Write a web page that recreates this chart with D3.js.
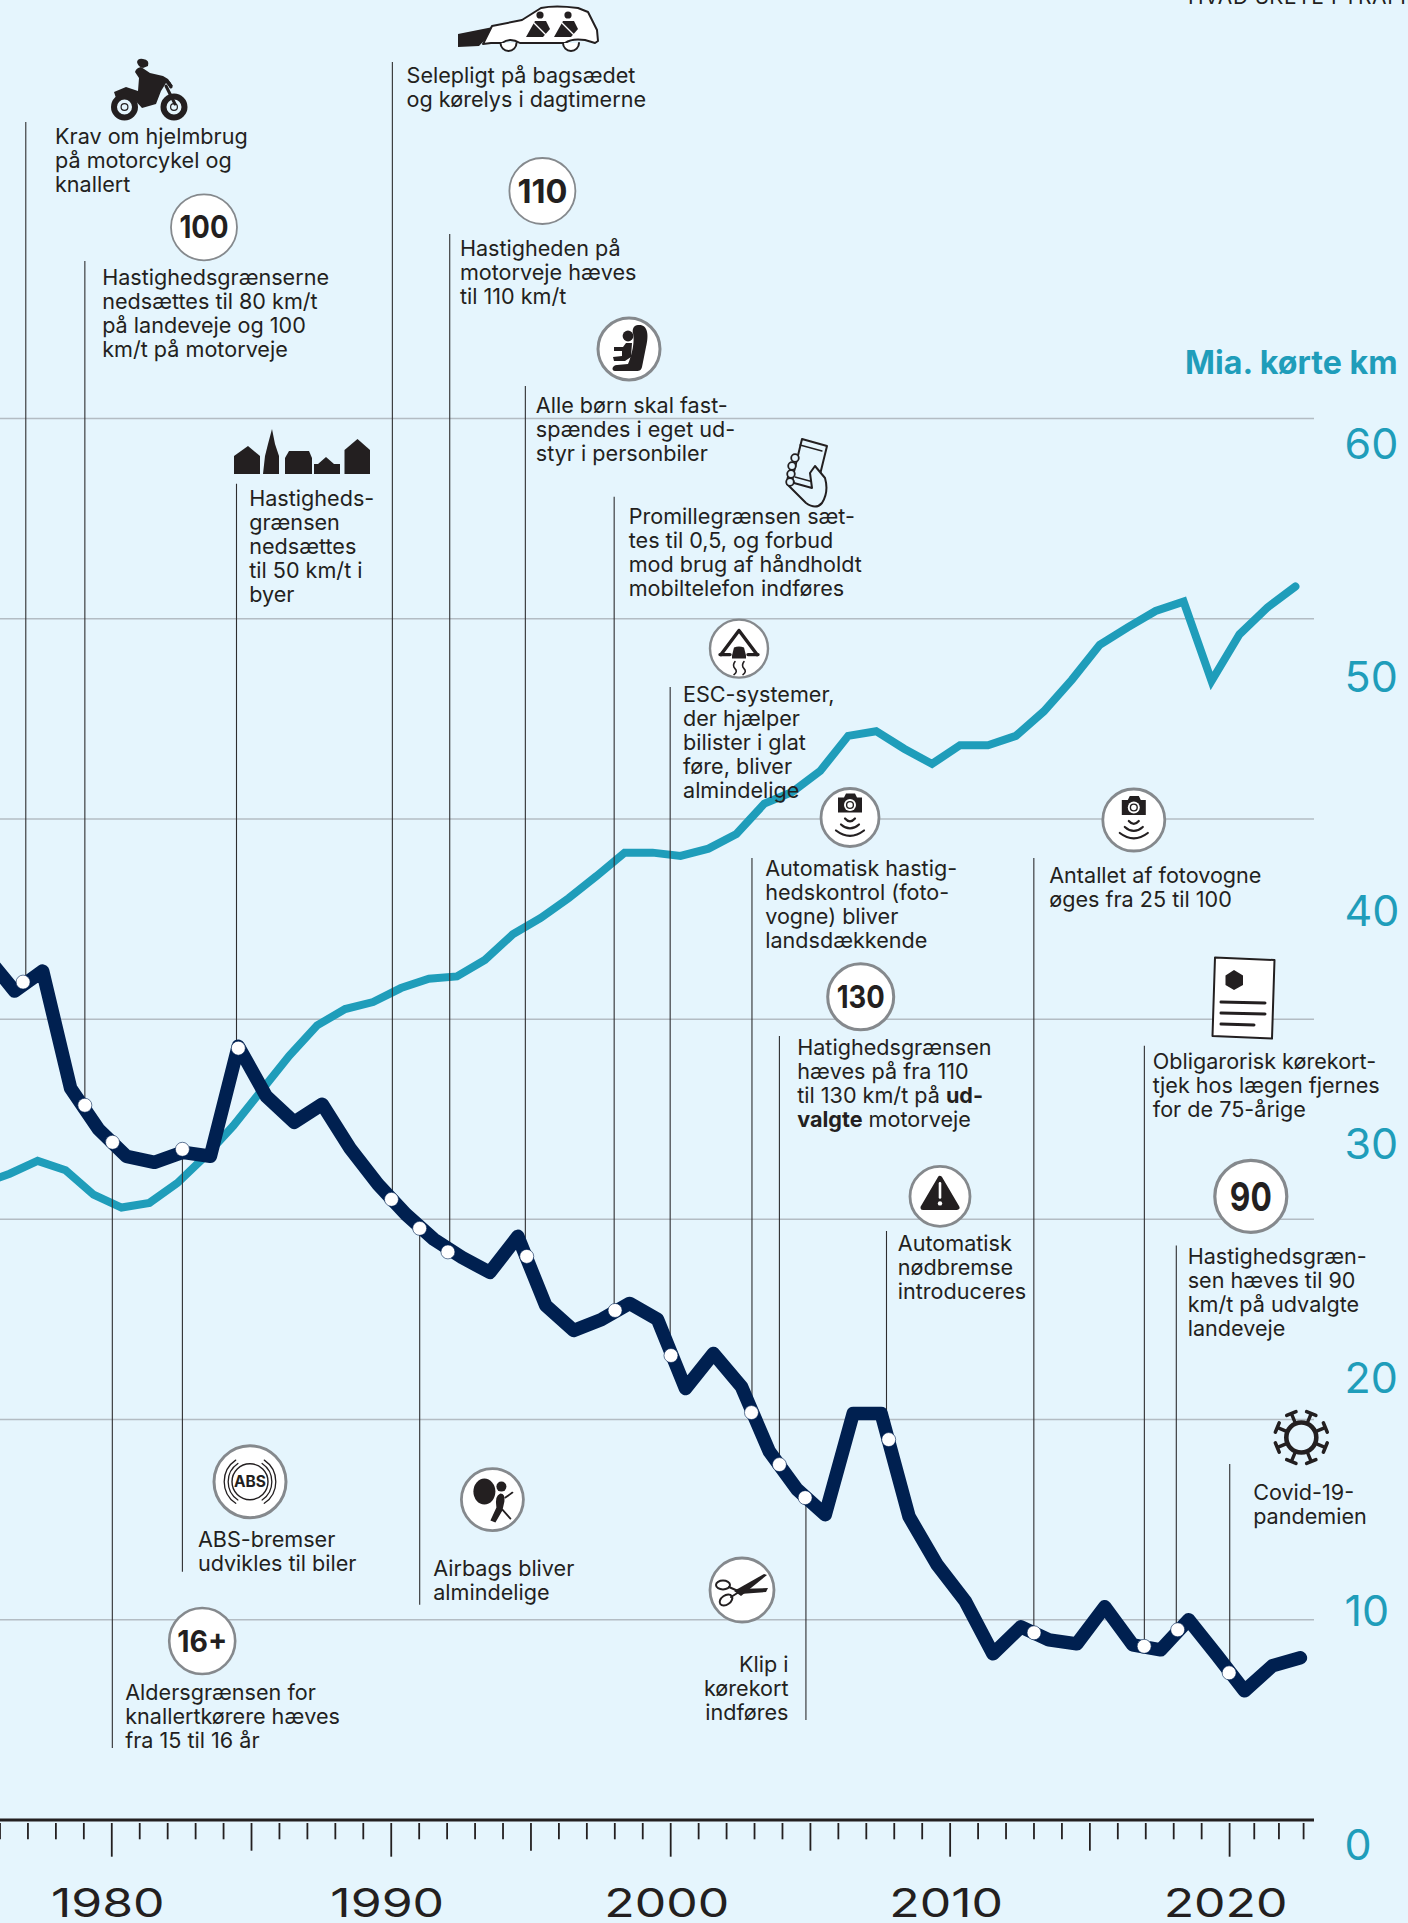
<!DOCTYPE html>
<html><head><meta charset="utf-8">
<script src="https://cdn.jsdelivr.net/npm/d3@7/dist/d3.min.js"></script>
<style>
html,body{margin:0;padding:0;background:#e5f5fd;}
svg{display:block;}
text{font-family:Inter,"Noto Sans",sans-serif;}
</style></head><body>
<svg id="c" width="1408" height="1923"></svg>
<script>
// ---------- data ----------
const years = d3.range(1976, 2024);
const fatalities = [862,828,848,731,690,663,657,667,663,773,723,697,715,671,635,605,580,562,547,583,514,489,500,516,500,431,466,433,368,330,305,406,406,303,255,219,166,193,180,176,213,175,170,200,165,129,154,162];
const kilometres = [28.3,28.75,29.3,28.9,27.85,27.3,27.5,28.35,29.5,30.8,32.3,33.8,35.1,35.8,36.1,36.7,37.1,37.2,37.9,39,39.7,40.55,41.5,42.5,42.5,42.36,42.67,43.3,44.6,45.1,46,47.5,47.7,46.95,46.3,47.1,47.1,47.5,48.55,49.9,51.4,52.15,52.85,53.25,49.85,51.85,53,53.9];
const gridValues = [200,400,600,800,1000,1200,1400];
const kmTicks = [0,10,20,30,40,50,60];
const axisYears = d3.range(1976, 2024);
const decadeLabels = [1980,1990,2000,2010,2020];
const eventYears = [1977.3,1979.51,1980.5,1983,1985,1990.48,1991.49,1992.5,1995.32,1998.48,2000.48,2003.36,2004.36,2005.28,2008.27,2013.47,2017.41,2018.61,2020.45];
const eventValues = [837,714,677,670,771,620,591,567.5,563,509,464,407,355,322,380,187,173.5,190,147];
const eventTexts = [
 ["Krav om hjelmbrug","på motorcykel og","knallert"],
 ["Hastighedsgrænserne","nedsættes til 80 km/t","på landeveje og 100","km/t på motorveje"],
 ["Aldersgrænsen for","knallertkørere hæves","fra 15 til 16 år"],
 ["ABS-bremser","udvikles til biler"],
 ["Hastigheds-","grænsen","nedsættes","til 50 km/t i","byer"],
 ["Selepligt på bagsædet","og kørelys i dagtimerne"],
 ["Airbags bliver","almindelige"],
 ["Hastigheden på","motorveje hæves","til 110 km/t"],
 ["Alle børn skal fast-","spændes i eget ud-","styr i personbiler"],
 ["Promillegrænsen sæt-","tes til 0,5, og forbud","mod brug af håndholdt","mobiltelefon indføres"],
 ["ESC-systemer,","der hjælper","bilister i glat","føre, bliver","almindelige"],
 ["Automatisk hastig-","hedskontrol (foto-","vogne) bliver","landsdækkende"],
 ["Hatighedsgrænsen","hæves på fra 110","til 130 km/t på *ud-*","*valgte* motorveje"],
 ["Klip i","kørekort","indføres"],
 ["Automatisk","nødbremse","introduceres"],
 ["Antallet af fotovogne","øges fra 25 til 100"],
 ["Obligarorisk kørekort-","tjek hos lægen fjernes","for de 75-årige"],
 ["Hastighedsgræn-","sen hæves til 90","km/t på udvalgte","landeveje"],
 ["Covid-19-","pandemien"]
];
const titleText = "Mia. kørte km";
const headerText = "HVAD SKETE I TRAFIKKEN";

// ---------- layout ----------
const BG="#e5f5fd", NAVY="#002050", TEAL="#1f9dba", INK="#231f20", GRID="#b3bcc3", RING="#85898d";
// [leader far end y, leader dx, text x, first baseline, anchor]
const layout = [
 [122,2.7,55,143.7],[261,0,102.2,284.5],[1748,-.2,125.2,1700],[1571.7,0,197.9,1546.7],
 [483.7,-1.8,249.2,506],[62,.9,406.6,83],[1604.7,0,433.2,1575.7],[234,1.8,459.9,256],
 [386,-1.4,535.8,413],[496.7,-.9,628.7,523.5],[687,-.8,683,702],[858,.5,765.2,875.7],
 [1036,0,797.2,1054.6],[1720,.8,788.5,1671.7,"end"],[1231,-2.2,897.8,1251],[858,-.2,1049.2,883],
 [1045.7,.2,1152.8,1068.6],[1245.4,-1.4,1187.7,1264.2],[1464,.6,1253.2,1500]
];
const svg=d3.select("#c");
svg.append("rect").attr("width",1408).attr("height",1923).attr("fill",BG);

const x=d3.scaleLinear().domain([1977,2023]).range([14.7,1300.4]);
const xAxis=d3.scaleLinear().domain([1976,2020,2023]).range([0,1229.6,1303.6]);
const yD=d3.scaleLinear().domain([0,1400]).range([1820,418.5]);
const yK=d3.scaleLinear().domain([0,60]).range([1845,444]);
const TEAL_DX=-5;

// grid
svg.append("g").selectAll("line").data(gridValues).join("line")
 .attr("x1",0).attr("x2",1314).attr("y1",d=>yD(d)).attr("y2",d=>yD(d))
 .attr("stroke",GRID).attr("stroke-width",1.5);

// teal line
svg.append("path").datum(years.map((y,i)=>[y,kilometres[i]]))
 .attr("fill","none").attr("stroke",TEAL).attr("stroke-width",8).attr("stroke-linejoin","miter").attr("stroke-linecap","round")
 .attr("d",d3.line().x(d=>x(d[0])+TEAL_DX).y(d=>yK(d[1])));

// leaders
svg.append("g").selectAll("line").data(eventYears).join("line")
 .attr("x1",(d,i)=>x(d)+layout[i][1]).attr("x2",(d,i)=>x(d)+layout[i][1])
 .attr("y1",(d,i)=>layout[i][0]).attr("y2",(d,i)=>yD(eventValues[i]))
 .attr("stroke","#2e2e30").attr("stroke-width",1.1);

// navy line
svg.append("path").datum(years.map((y,i)=>[y,fatalities[i]]))
 .attr("fill","none").attr("stroke",NAVY).attr("stroke-width",13.5).attr("stroke-linejoin","round").attr("stroke-linecap","round")
 .attr("d",d3.line().x(d=>x(d[0])).y(d=>yD(d[1])));

// event dots
svg.append("g").selectAll("circle").data(eventYears).join("circle")
 .attr("cx",d=>x(d)).attr("cy",(d,i)=>yD(eventValues[i])).attr("r",7)
 .attr("fill","#fff").attr("stroke",NAVY).attr("stroke-width",.6);

// event texts
const tg=svg.append("g").attr("fill",INK).attr("font-size",21.6);
eventTexts.forEach((lines,i)=>{
 const l=layout[i];
 const t=tg.append("text").attr("text-anchor",l[4]||"start");
 lines.forEach((s,j)=>{
  let first=true;
  s.split("*").forEach((part,k)=>{
   if(!part)return;
   const sp=t.append("tspan").text(part).attr("font-weight",k%2?700:400);
   if(first){sp.attr("x",l[2]).attr("y",l[3]+j*24);first=false;}
  });
 });
});

// x axis
const ax=svg.append("g");
ax.append("g").selectAll("line").data(axisYears).join("line")
 .attr("x1",d=>xAxis(d)).attr("x2",d=>xAxis(d)).attr("y1",1823)
 .attr("y2",d=>d%10===0?1856.7:d%5===0?1850.7:1839.3)
 .attr("stroke",INK).attr("stroke-width",1.8);
ax.append("line").attr("x1",0).attr("x2",1314).attr("y1",1820).attr("y2",1820).attr("stroke",INK).attr("stroke-width",3);
const decade=ax.append("g").selectAll("text").data(decadeLabels).join("text")
 .attr("x",d=>xAxis(d)-4).attr("y",1916.7).attr("text-anchor","middle").attr("fill",INK)
 .attr("font-size",39).text(d=>d);
decade.each(function(){const n=this.getComputedTextLength();d3.select(this).attr("textLength",n*1.28).attr("lengthAdjust","spacingAndGlyphs");});

// km axis
svg.append("g").selectAll("text").data(kmTicks).join("text")
 .attr("x",1344.5).attr("y",d=>yK(d)+14.5).attr("fill",TEAL).attr("font-size",43).text(d=>d);
svg.append("text").attr("x",1185).attr("y",373.5).attr("fill",TEAL)
 .attr("font-size",32).attr("font-weight",700).attr("textLength",212.5).attr("lengthAdjust","spacingAndGlyphs").text(titleText);
svg.append("text").attr("x",1188).attr("y",4).attr("fill",INK).attr("font-size",21).attr("letter-spacing",.6).text(headerText);

// ---------- icons ----------
function disc(cx,cy,r,sw){
 const g=svg.append("g").attr("transform",`translate(${cx},${cy})`);
 g.append("circle").attr("r",r).attr("fill","#fff").attr("stroke",RING).attr("stroke-width",sw||2.4);
 return g;
}
function numberDisc(cx,cy,r,label,fs,sw,w){
 const g=disc(cx,cy,r,sw);
 g.append("text").attr("text-anchor","middle").attr("y",fs*.36).attr("font-size",fs).attr("font-weight",700)
  .attr("fill",INK).attr("textLength",w).attr("lengthAdjust","spacingAndGlyphs").text(label);
}
const P=(g,d,fill,stroke,sw)=>g.append("path").attr("d",d).attr("fill",fill||INK).attr("stroke",stroke||"none").attr("stroke-width",sw||0).attr("stroke-linecap","round").attr("stroke-linejoin","round");

numberDisc(204,227.3,33,"100",31,1.8,49);
numberDisc(542.4,191,33,"110",32,1.8,50);
numberDisc(860.7,996.8,33,"130",31,3,48);
numberDisc(1250.8,1196.4,36,"90",40,3.2,42);
numberDisc(202.2,1641,33,"16+",30,2.6,50);

// child seat
{const g=disc(629,349,31,3);
 P(g,"M9,-24 C19,-25 20,-14 17,-2 L13,18 C12,22 10,22 6,22 L-14,22 C-18,22 -17,16 -12,16 L-1,15 C3,6 6,-8 4,-16 C3,-20 5,-24 9,-24Z");
 g.append("circle").attr("cx",-1).attr("cy",-13).attr("r",5.4).attr("fill",INK);
 P(g,"M-3,-6 L3,-6 L2,8 L-4,12 L-15,12 L-16,8 L-7,7 L-7,2 L-15,2 L-15,-2 L-6,-2 Z");
}
// ESC
{const g=disc(739,648.6,29,2.4);
 P(g,"M0,-18 L-18,6 M0,-18 L18,6","none",INK,3.4);
 P(g,"M-19,6 L-9,6 M9,6 L19,6","none",INK,3.4);
 P(g,"M-7,7 L-5,-1 Q0,-3 5,-1 L7,7 L7,10 L-7,10Z");
 P(g,"M-4,13 q-3,4 0,7 q3,3 -1,6","none",INK,1.6);
 P(g,"M5,13 q-3,4 0,7 q3,3 -1,6","none",INK,1.6);
}
// cameras
function camera(cx,cy,r){
 const g=disc(cx,cy,r,2.8);
 P(g,"M-12,-20 L-6,-20 L-4,-24 L5,-24 L7,-20 L12,-20 L12,-5 L-12,-5Z");
 g.append("circle").attr("cy",-12.5).attr("r",6).attr("fill","#fff");
 g.append("circle").attr("cy",-12.5).attr("r",3.4).attr("fill","none").attr("stroke",INK).attr("stroke-width",1.4);
 [[5,4],[9,10],[14,16]].forEach(([w,y])=>P(g,`M${-w},${y-3} Q0,${y+w*.55} ${w},${y-3}`,"none",INK,2.2));
}
camera(850,817.5,29); camera(1133.8,820,31);
// warning
{const g=disc(940,1196.4,30,2.8);
 P(g,"M0,-18 L17,11 L-17,11Z",INK,INK,5);
 P(g,"M0,-13 L0,1","none","#fff",2.6);
 g.append("circle").attr("cy",7).attr("r",2.2).attr("fill","#fff");
}
// ABS
{const g=disc(250,1481.7,36,3);
 g.append("circle").attr("r",18).attr("fill","none").attr("stroke",INK).attr("stroke-width",1.4);
 g.append("text").attr("text-anchor","middle").attr("y",5.5).attr("font-size",15.5).attr("font-weight",700).attr("fill",INK).text("ABS");
 [22,26].forEach(r=>{
  P(g,`M${-r*.55},${-r*.83} A${r},${r} 0 0 0 ${-r*.55},${r*.83}`,"none",INK,1.3);
  P(g,`M${r*.55},${-r*.83} A${r},${r} 0 0 1 ${r*.55},${r*.83}`,"none",INK,1.3);
 });
}
// airbag
{const g=disc(492.4,1499.6,31,2.8);
 g.append("ellipse").attr("cx",-8).attr("cy",-8).attr("rx",11).attr("ry",13).attr("fill",INK);
 g.append("circle").attr("cx",9).attr("cy",-13).attr("r",5).attr("fill",INK);
 P(g,"M8,-6 Q13,-6 12,2 L10,11 L3,23 L-2,21 L4,8 Q2,-4 8,-6Z");
 P(g,"M13,-2 L20,-7","none",INK,1.8);
 P(g,"M10,10 L18,19","none",INK,1.8);
}
// scissors
{const g=disc(742,1590,32,2.8);
 P(g,"M-8,1 L22,-16 L25,-15 L-1,6Z");
 P(g,"M-6,-1 L26,-2 L24,2 L-2,4Z");
 g.append("ellipse").attr("cx",-19).attr("cy",-5).attr("rx",7).attr("ry",4.4).attr("fill","none").attr("stroke",INK).attr("stroke-width",2);
 g.append("ellipse").attr("cx",-16).attr("cy",10).attr("rx",7).attr("ry",4.6).attr("transform","rotate(-35 -16 10)").attr("fill","none").attr("stroke",INK).attr("stroke-width",2);
 P(g,"M-13,-3 L-4,1 M-11,7 L-3,2","none",INK,2);
}
// motorcycle
{const g=svg.append("g");
 [[124.5,107],[174,107]].forEach(([cx,cy])=>{
  g.append("circle").attr("cx",cx).attr("cy",cy).attr("r",10.5).attr("fill","none").attr("stroke",INK).attr("stroke-width",6);
  g.append("circle").attr("cx",cx).attr("cy",cy).attr("r",3.4).attr("fill","none").attr("stroke",INK).attr("stroke-width",1.2);
 });
 P(g,"M114,92 L126,87 L138,91 L139,78 L135,72 Q136,68 141,67 L150,73 L163,76 L168,79 L173,86 L170,88 L166,83 L161,91 L156,104 L142,108 L133,98 L116,98Z");
 P(g,"M137,62 Q138,58 143,59 Q150,60 148,66 L143,68 Q138,67 137,62Z");
 P(g,"M166,86 L175,104 M169,83 L171,87","none",INK,3);
}
// car
{const g=svg.append("g");
 P(g,"M458,34 L498,26 L479,46 L458,47Z");
 P(g,"M492,26 L522,20 L541,8 Q555,5 578,8 L588,12 L597,30 L598,41 L595,43 L585,40 Q572,38 565,43 L520,43 Q510,37 502,43 L491,43 L483,44 Z","#fff",INK,2);
 [[508.5,43],[571,43]].forEach(([cx,cy])=>P(g,`M${cx-8},${cy} A8,8 0 0 0 ${cx+8},${cy}`,"#fff",INK,2));
 [[540,15],[568,15]].forEach(([cx,cy])=>{
  g.append("circle").attr("cx",cx).attr("cy",cy).attr("r",3.6).attr("fill",INK);
  P(g,`M${cx-14},${cy+22} L${cx-5},${cy+6} L${cx+6},${cy+6} L${cx+10},${cy+14} L${cx+3},${cy+22} Z`);
  P(g,`M${cx-7},${cy+7} L${cx+8},${cy+22}`,"none","#fff",1.4);
 });
}
// town
{const g=svg.append("g");
 P(g,"M234,474 L234,456 L248,446 L260,456 L260,474Z");
 P(g,"M263,474 L265,456 L268,444 L272,429 L275,444 L279,456 L279,474Z");
 P(g,"M285,474 L285,458 L289,451 L309,451 L312,458 L312,474Z");
 P(g,"M314,474 L314,464 L318,464 L326,457 L334,464 L340,464 L340,474Z");
 P(g,"M344.5,474 L344.5,450 L357.5,439 L370,450 L370,474Z");
}
// phone
{const g=svg.append("g");
 P(g,"M802,439 L827,446 L816,491 L791,484Z",BG,INK,2);
 P(g,"M800,445 L822,451 M795,477 L817,483","none",INK,1.3);
 P(g,"M790,470 q-3,8 -3,14 L800,497 L806,503 Q816,510 822,503 Q829,492 825,478 L815,466 L810,473 L812,488 L794,483 Z",BG,INK,2);
 [[794,456],[791,464],[790,472],[789,480]].forEach(([cx,cy])=>g.append("circle").attr("cx",cx+1).attr("cy",cy+2).attr("r",3.8).attr("fill",BG).attr("stroke",INK).attr("stroke-width",1.8));
}
// card
{const g=svg.append("g");
 P(g,"M1215,957.5 L1274.5,960 L1272,1038.6 L1212.5,1036Z","#fff",INK,2);
 P(g,"M1234,970 L1243,975.5 L1243,985 L1234,990 L1225.5,985 L1225.5,975.5Z");
 [1002,1013,1024].forEach((y,i)=>P(g,`M1221,${y} L${i==2?1254:1265},${y+1}`,"none",INK,3));
}
// virus
{const g=svg.append("g").attr("transform","translate(1301.3,1437.5)");
 g.append("circle").attr("r",15).attr("fill","none").attr("stroke",INK).attr("stroke-width",4.6);
 d3.range(8).forEach(i=>{
  const a=i*45+22.5;
  g.append("g").attr("transform",`rotate(${a})`).call(s=>{
   P(s,"M0,-16 L0,-25","none",INK,3.4);
   P(s,"M-5,-26 L5,-26","none",INK,3.6);
  });
 });
}
</script>
</body></html>
